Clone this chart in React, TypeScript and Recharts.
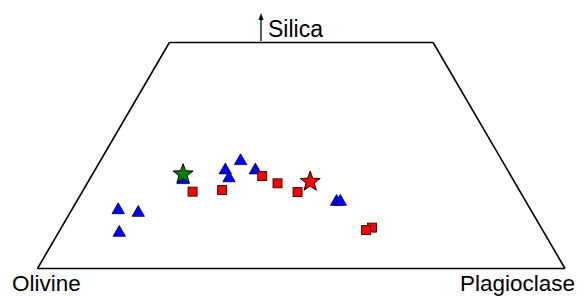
import { ScatterChart, Scatter, XAxis, YAxis, ReferenceLine } from 'recharts';

// Diagram coordinates: x 0 = Olivine, 100 = Plagioclase; y 0 = base, 100 = top edge
const frame = [
  { x: 0, y: 0 },
  { x: 25, y: 100 },
  { x: 75, y: 100 },
  { x: 100, y: 0 },
];

const triangleX = [15.3, 19.1, 15.5, 27.6, 35.6, 36.3, 38.5, 41.3, 56.7, 57.4];
const triangleY = [26.3, 25.1, 16.3, 39.6, 43.9, 40.4, 48.0, 43.9, 30.0, 30.0];

const squareX = [29.4, 35.0, 42.6, 45.5, 49.3, 63.4, 62.3];
const squareY = [34.0, 34.7, 40.9, 37.7, 33.8, 18.1, 17.0];

const greenStar = [{ x: 27.6, y: 41.7 }];
const redStar = [{ x: 51.7, y: 38.4 }];

const triangles = triangleX.map((x, i) => ({ x, y: triangleY[i] }));
const squares = squareX.map((x, i) => ({ x, y: squareY[i] }));

const FONT = '"Liberation Sans", Arial, sans-serif';

const Triangle = (props: any) => {
  const { cx, cy } = props;
  if (cx == null || cy == null) return null;
  const pts = `${cx},${cy - 6.2} ${cx - 6.2},${cy + 4.6} ${cx + 6.2},${cy + 4.6}`;
  return <polygon points={pts} fill="#0000ff" stroke="#00003a" strokeWidth={0.8} />;
};

const Square = (props: any) => {
  const { cx, cy } = props;
  if (cx == null || cy == null) return null;
  return (
    <rect x={cx - 4.5} y={cy - 4.5} width={9} height={9} fill="#ff0000" stroke="#3a0000" strokeWidth={0.9} />
  );
};

const makeStar = (fill: string) => (props: any) => {
  const { cx, cy } = props;
  if (cx == null || cy == null) return null;
  const outer = 10.5;
  const inner = 4.3;
  const pts: string[] = [];
  for (let i = 0; i < 10; i++) {
    const r = i % 2 === 0 ? outer : inner;
    const a = -Math.PI / 2 + (i * Math.PI) / 5;
    pts.push(`${cx + r * Math.cos(a)},${cy + r * Math.sin(a)}`);
  }
  return <polygon points={pts.join(' ')} fill={fill} stroke="#000" strokeWidth={1} />;
};

const edges = frame.map((p, i) => [p, frame[(i + 1) % frame.length]]);

export default function App() {
  return (
    <div style={{ position: 'absolute', left: 0, top: 0, width: 584, height: 297, background: '#fff' }}>
      <ScatterChart
        width={584}
        height={297}
        margin={{ top: 42.5, right: 19, bottom: 28.5, left: 37.5 }}
      >
        <XAxis type="number" dataKey="x" domain={[0, 100]} hide />
        <YAxis type="number" dataKey="y" domain={[0, 100]} hide />
        {edges.map(([a, b], i) => (
          <ReferenceLine
            key={i}
            segment={[a, b]}
            stroke="#000"
            strokeWidth={1.6}
            ifOverflow="visible"
          />
        ))}
        <Scatter data={triangles} shape={Triangle} isAnimationActive={false} />
        <Scatter data={squares} shape={Square} isAnimationActive={false} />
        <Scatter data={greenStar} shape={makeStar('#008000')} isAnimationActive={false} />
        <Scatter data={redStar} shape={makeStar('#ff0000')} isAnimationActive={false} />
      </ScatterChart>
      <svg
        width={584}
        height={297}
        style={{ position: 'absolute', left: 0, top: 0, pointerEvents: 'none' }}
      >
        <line x1={261} y1={41} x2={261} y2={19} stroke="#000" strokeWidth={1.3} />
        <polygon points="261,13 258.5,20 263.5,20" fill="#000" />
        <text x={268} y={37} fontFamily={FONT} fontSize={23} fill="#000">
          Silica
        </text>
        <text x={12} y={291} fontFamily={FONT} fontSize={22.5} fill="#000">
          Olivine
        </text>
        <text x={460} y={291} fontFamily={FONT} fontSize={22.5} fill="#000">
          Plagioclase
        </text>
      </svg>
    </div>
  );
}
